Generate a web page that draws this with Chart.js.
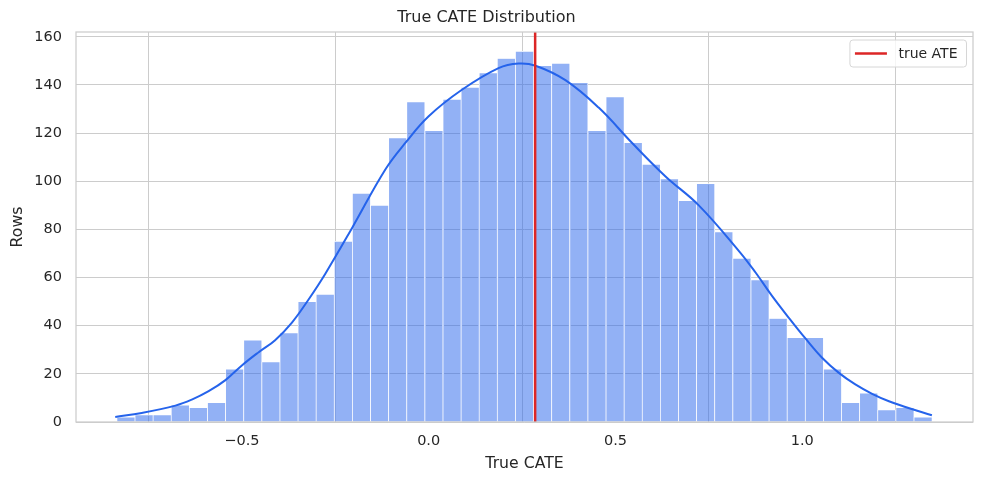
<!DOCTYPE html>
<html>
<head>
<meta charset="utf-8">
<script src="https://cdn.jsdelivr.net/npm/chart.js@4.4.1/dist/chart.umd.min.js"></script>
<style>
  html, body { margin: 0; padding: 0; background: #ffffff; }
  #wrap { width: 984px; height: 484px; position: relative; }
</style>
</head>
<body>
<div id="wrap"><canvas id="c" width="984" height="484"></canvas></div>
<script>
// ---- data ----
const binCenters = [
  -0.8103, -0.7618, -0.7133, -0.6648, -0.6163, -0.5678, -0.5193, -0.4708, -0.4223, -0.3738,
  -0.3254, -0.2769, -0.2284, -0.1799, -0.1314, -0.0829, -0.0344, 0.0141, 0.0626, 0.1111,
  0.1595, 0.2080, 0.2565, 0.3050, 0.3535, 0.4020, 0.4505, 0.4990, 0.5475, 0.5960,
  0.6444, 0.6929, 0.7414, 0.7899, 0.8384, 0.8869, 0.9354, 0.9839, 1.0324, 1.0809,
  1.1293, 1.1778, 1.2263, 1.2748, 1.3233
];
const binCounts = [
  2, 3, 3, 7, 6, 8, 22, 34, 25, 37,
  50, 53, 75, 95, 90, 118, 133, 121, 134, 139,
  145, 151, 154, 148, 149, 141, 121, 135, 116, 107,
  101, 92, 99, 79, 68, 59, 43, 35, 35, 22,
  8, 12, 5, 6, 2
];
const kdeX = [
  -0.839, -0.768, -0.678, -0.634, -0.589, -0.544, -0.500, -0.455, -0.411, -0.366,
  -0.321, -0.277, -0.205, -0.116, -0.062, 0.000, 0.089, 0.187, 0.241, 0.286,
  0.366, 0.455, 0.544, 0.634, 0.723, 0.830, 0.875, 0.919, 0.964, 1.009,
  1.053, 1.098, 1.142, 1.187, 1.232, 1.276, 1.347
];
const kdeY = [
  2.1, 3.75, 6.8, 9.3, 12.8, 17.4, 23.5, 29.0, 34.0, 41.3,
  51.0, 61.5, 80.6, 104.9, 116.0, 127.0, 138.0, 147.0, 148.9, 148.0,
  142.0, 130.6, 116.0, 102.0, 90.0, 71.1, 62.1, 52.4, 43.3, 34.6,
  26.7, 20.4, 15.6, 11.7, 8.6, 6.25, 2.8
];
const trueATE = 0.285;
const xTicks = [-0.5, 0.0, 0.5, 1.0];
const yTicks = [0, 20, 40, 60, 80, 100, 120, 140, 160];
const xRange = [-0.944, 1.457];
const yRange = [0, 162];

// ---- styling ----
const TEXT = '#262626';
const GRID = '#cccccc';
const BLUE = '#2563eb';
const RED = '#dc2626';
Chart.defaults.font.family = "'DejaVu Sans', sans-serif";
Chart.defaults.color = TEXT;

const histData = binCenters.map((x, i) => ({ x: x, y: binCounts[i] }));
const kdeData = kdeX.map((x, i) => ({ x: x, y: kdeY[i] }));
const ateData = [{ x: trueATE, y: yRange[0] }, { x: trueATE, y: yRange[1] }];

const framePlugin = {
  id: 'frame',
  afterDraw(chart) {
    const { ctx, chartArea: a } = chart;
    ctx.save();
    ctx.strokeStyle = GRID;
    ctx.lineWidth = 1.25;
    ctx.strokeRect(a.left, a.top, a.right - a.left, a.bottom - a.top);
    ctx.restore();
  }
};

const legendPlugin = {
  id: 'innerLegend',
  afterDraw(chart) {
    const ds = chart.data.datasets.find(d => d.showInLegend);
    if (!ds) return;
    const { ctx, chartArea: a } = chart;
    ctx.save();
    ctx.font = "14px 'DejaVu Sans', sans-serif";
    const tw = ctx.measureText(ds.label).width;
    const right = a.right - 6.5;
    const top = a.top + 8;
    const h = 27;
    const w = 5 + 32 + 11.5 + tw + 9;
    const left = right - w;
    const r = 3;
    ctx.beginPath();
    ctx.moveTo(left + r, top);
    ctx.lineTo(right - r, top);
    ctx.arcTo(right, top, right, top + r, r);
    ctx.lineTo(right, top + h - r);
    ctx.arcTo(right, top + h, right - r, top + h, r);
    ctx.lineTo(left + r, top + h);
    ctx.arcTo(left, top + h, left, top + h - r, r);
    ctx.lineTo(left, top + r);
    ctx.arcTo(left, top, left + r, top, r);
    ctx.closePath();
    ctx.fillStyle = 'rgba(255,255,255,0.8)';
    ctx.fill();
    ctx.strokeStyle = '#d6d6d6';
    ctx.lineWidth = 1;
    ctx.stroke();
    const cy = top + h / 2;
    ctx.beginPath();
    ctx.moveTo(left + 5, cy);
    ctx.lineTo(left + 37, cy);
    ctx.strokeStyle = ds.borderColor;
    ctx.lineWidth = 2.5;
    ctx.stroke();
    ctx.fillStyle = TEXT;
    ctx.textAlign = 'left';
    ctx.textBaseline = 'middle';
    ctx.fillText(ds.label, left + 48.5, cy + 0.5);
    ctx.restore();
  }
};

new Chart(document.getElementById('c'), {
  type: 'bar',
  data: {
    datasets: [
      {
        type: 'line',
        label: 'true ATE',
        showInLegend: true,
        data: ateData,
        borderColor: RED,
        borderWidth: 2.5,
        pointRadius: 0,
        fill: false,
        order: 0
      },
      {
        type: 'line',
        label: 'KDE',
        data: kdeData,
        borderColor: BLUE,
        borderWidth: 2,
        pointRadius: 0,
        tension: 0.4,
        fill: false,
        order: 1
      },
      {
        type: 'bar',
        label: 'Rows',
        data: histData,
        backgroundColor: 'rgba(37,99,235,0.5)',
        borderColor: '#ffffff',
        borderWidth: { left: 0.7, right: 0.7, top: 0.7, bottom: 0 },
        borderSkipped: false,
        barPercentage: 1.0,
        categoryPercentage: 1.0,
        order: 2
      }
    ]
  },
  plugins: [framePlugin, legendPlugin],
  options: {
    responsive: false,
    animation: false,
    devicePixelRatio: 1,
    layout: { padding: { left: 0, right: 11, top: 0, bottom: 0 } },
    plugins: {
      legend: { display: false },
      tooltip: { enabled: false },
      title: {
        display: true,
        text: 'True CATE Distribution',
        color: TEXT,
        font: { size: 16, weight: 'normal', lineHeight: 1.2 },
        padding: { top: 8, bottom: 4.8 }
      }
    },
    scales: {
      x: {
        type: 'linear',
        min: xRange[0],
        max: xRange[1],
        offset: false,
        afterFit(scale) { scale.height = 62; },
        afterBuildTicks(scale) { scale.ticks = xTicks.map(v => ({ value: v })); },
        ticks: {
          padding: 11,
          font: { size: 14.5 },
          color: TEXT,
          maxRotation: 0,
          callback: v => v.toFixed(1).replace('-', '\u2212')
        },
        grid: { color: GRID, lineWidth: 1, drawTicks: false },
        border: { display: false },
        title: {
          display: true,
          text: 'True CATE',
          color: TEXT,
          font: { size: 15.7, lineHeight: 1.2 },
          padding: { top: 0, bottom: 10.7 }
        }
      },
      y: {
        type: 'linear',
        min: yRange[0],
        max: yRange[1],
        afterFit(scale) { scale.width = 76; },
        afterBuildTicks(scale) { scale.ticks = yTicks.map(v => ({ value: v })); },
        ticks: {
          padding: 14,
          font: { size: 14.5 },
          color: TEXT,
          callback: v => String(v)
        },
        grid: { color: GRID, lineWidth: 1, drawTicks: false },
        border: { display: false },
        title: {
          display: true,
          text: 'Rows',
          color: TEXT,
          font: { size: 15.7, lineHeight: 1.2 },
          padding: { top: 9, bottom: 0 }
        }
      }
    }
  }
});
</script>
</body>
</html>
